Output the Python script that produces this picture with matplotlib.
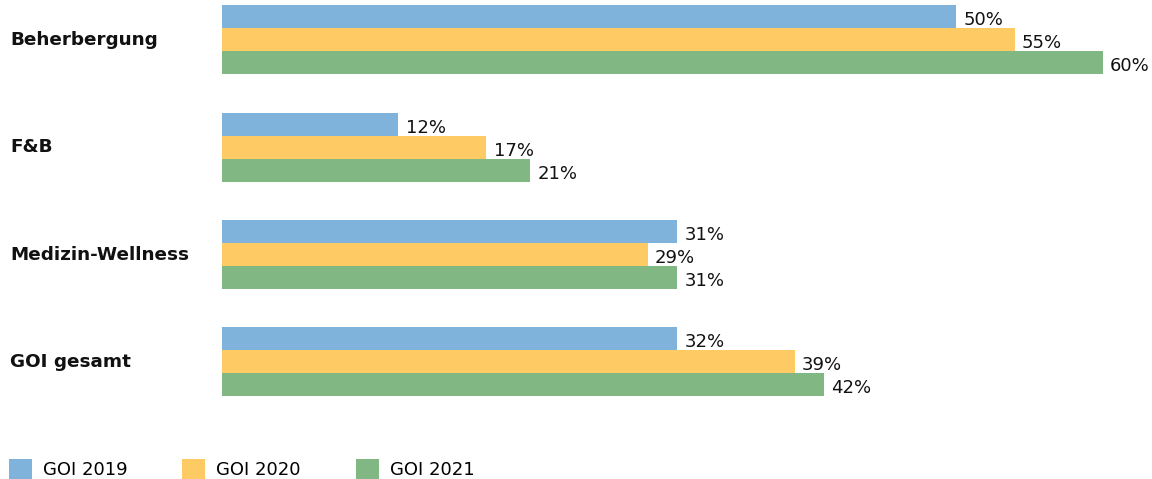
import matplotlib.pyplot as plt
from matplotlib.patches import Patch
import matplotlib.transforms as mtransforms

categories = ["Beherbergung", "F&B", "Medizin-Wellness", "GOI gesamt"]
series = ["GOI 2019", "GOI 2020", "GOI 2021"]
# bar lengths as drawn in the picture
goi_2019 = [50, 12, 31, 31]
goi_2020 = [54, 18, 29, 39]
goi_2021 = [60, 21, 31, 41]
# printed labels
lab_2019 = ["50%", "12%", "31%", "32%"]
lab_2020 = ["55%", "17%", "29%", "39%"]
lab_2021 = ["60%", "21%", "31%", "42%"]
colors = ["#80B3DB", "#FDCA63", "#81B782"]

W, H = 1152, 479
fig = plt.figure(figsize=(W / 100, H / 100), dpi=100)
left = 222 / W
ax = fig.add_axes([left, 0, 1 - left, 1])

unit = 107.33  # px between groups
bar_h = 23 / unit
ax.set_xlim(0, (W - 222) / 14.68)
ax.set_ylim((H - 40) / unit, -40 / unit)

data = [(goi_2019, lab_2019), (goi_2020, lab_2020), (goi_2021, lab_2021)]
for k, ((vals, labs), c) in enumerate(zip(data, colors)):
    ys = [i + (k - 1) * bar_h for i in range(len(categories))]
    ax.barh(ys, vals, height=bar_h, color=c, linewidth=0)
    for y, v, t in zip(ys, vals, labs):
        ax.text(v + 0.5, y + 0.03, t, va="center", ha="left", fontsize=13, color="#111111")

trans = mtransforms.blended_transform_factory(fig.transFigure, ax.transData)
for i, cat in enumerate(categories):
    ax.text(10 / W, i, cat, transform=trans, ha="left", va="center",
            fontsize=13.2, fontweight="bold", color="#111111")

ax.axis("off")

handles = [Patch(facecolor=c, edgecolor="none", label=s) for s, c in zip(series, colors)]
fig.legend(handles=handles, loc="lower left", bbox_to_anchor=(9 / W, 0.0), ncol=3,
           frameon=False, fontsize=13, handlelength=1.27, handleheight=1.27,
           handletextpad=0.6, columnspacing=3.05, borderpad=0, borderaxespad=0)

fig.savefig("out.png", dpi=100)
